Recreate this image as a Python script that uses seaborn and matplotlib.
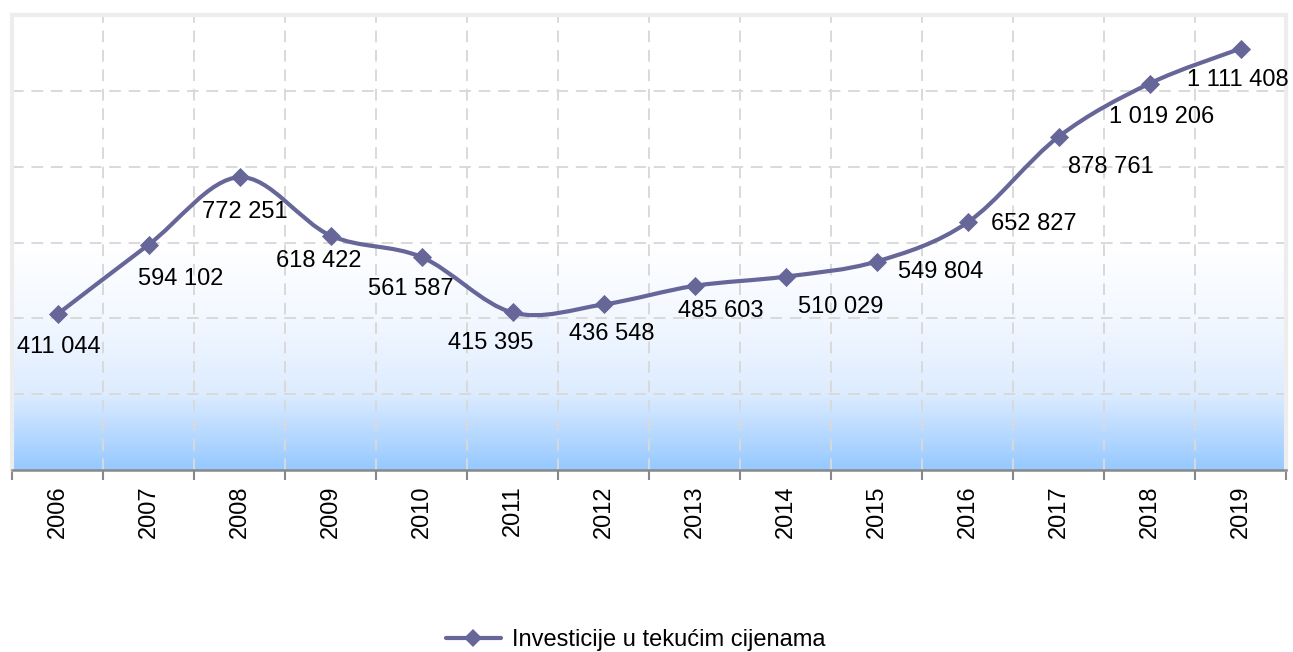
import numpy as np
import pandas as pd
import matplotlib
matplotlib.use("Agg")
import matplotlib.pyplot as plt
import seaborn as sns
from matplotlib.path import Path
from matplotlib.patches import PathPatch
from matplotlib.lines import Line2D
from matplotlib.colors import LinearSegmentedColormap

# ---- data ----
years = ["2006", "2007", "2008", "2009", "2010", "2011", "2012",
         "2013", "2014", "2015", "2016", "2017", "2018", "2019"]
values = [411044, 594102, 772251, 618422, 561587, 415395, 436548,
          485603, 510029, 549804, 652827, 878761, 1019206, 1111408]
labels = ["411 044", "594 102", "772 251", "618 422", "561 587", "415 395", "436 548",
          "485 603", "510 029", "549 804", "652 827", "878 761", "1 019 206", "1 111 408"]
series_name = "Investicije u tekućim cijenama"

# label offsets (pixels, layout only)
label_dx = [1, 32, 5, -12, -11, -22, 8, 26, 55, 64, 66, 52, 12, -3]
label_dy = [-33, -34, -35, -25, -32, -31, -30, -25, -30, -10, -2, -30, -33, -31]

LINE = "#666699"
FONT = "Liberation Sans"
FS = 17

sns.set_theme(style="white")
plt.rcParams["font.family"] = [FONT, "DejaVu Sans"]
plt.rcParams["text.color"] = "black"

W, H = 1293, 652
fig = plt.figure(figsize=(W / 100, H / 100), dpi=100)
ax = fig.add_axes([12 / W, (H - 470) / H, (1286 - 12) / W, (470 - 15) / H])

df = pd.DataFrame({"x": np.arange(len(years)), "year": years, "value": values})
ymax = 1200000

ax.set_xlim(-0.5, len(years) - 0.5)
ax.set_ylim(0, ymax)

# gradient background
cmap = LinearSegmentedColormap.from_list(
    "bg", [(0.0, "#97C9FF"), (200000 / ymax, "#DDECFF"), (400000 / ymax, "#F3F8FF"),
           (600000 / ymax, "#FFFFFF"), (1.0, "#FFFFFF")])
grad = np.linspace(0, 1, 400).reshape(-1, 1)
ax.imshow(grad, extent=[-0.5, len(years) - 0.5, 0, ymax], origin="lower",
          aspect="auto", cmap=cmap, zorder=0)

# grid
grid_kw = dict(color="#D9D9D9", lw=1.4, dashes=(6, 4), zorder=1)
for yv in range(200000, ymax, 200000):
    ax.axhline(yv, **grid_kw)
for xb in np.arange(0.5, len(years) - 1, 1.0):
    ax.axvline(xb, **grid_kw)

# smoothed line (Catmull-Rom -> cubic Bezier) built from the data
xs = df["x"].to_numpy(float)
ys = df["value"].to_numpy(float)
verts = [(xs[0], ys[0])]
codes = [Path.MOVETO]
n = len(xs)
for i in range(n - 1):
    p0 = np.array([xs[max(i - 1, 0)], ys[max(i - 1, 0)]])
    p1 = np.array([xs[i], ys[i]])
    p2 = np.array([xs[i + 1], ys[i + 1]])
    p3 = np.array([xs[min(i + 2, n - 1)], ys[min(i + 2, n - 1)]])
    c1 = p1 + (p2 - p0) / 6.0
    c2 = p2 - (p3 - p1) / 6.0
    verts += [tuple(c1), tuple(c2), tuple(p2)]
    codes += [Path.CURVE4] * 3
ax.add_patch(PathPatch(Path(verts, codes), facecolor="none", edgecolor=LINE,
                       lw=3.0, capstyle="round", joinstyle="round", zorder=3))

sns.scatterplot(data=df, x="x", y="value", marker="D", s=95, color=LINE,
                edgecolor=LINE, linewidth=0, ax=ax, zorder=4, legend=False)

# data labels
for xi, yi, lab, dx, dy in zip(xs, ys, labels, label_dx, label_dy):
    ax.annotate(lab, (xi, yi), xytext=(dx, dy), textcoords="offset pixels",
                ha="center", va="center", fontsize=FS, color="black", zorder=5)

# axes styling
ax.set_xticks(xs)
ax.set_xticklabels(years, rotation=90, fontsize=FS, color="black")
ax.set_xticks(np.arange(-0.5, len(years), 1.0), minor=True)
ax.tick_params(axis="x", which="major", length=0, pad=11)
ax.tick_params(axis="x", which="minor", length=7, width=1.5, color="#888888", bottom=True)
ax.set_yticks([])
ax.set_xlabel("")
ax.set_ylabel("")
for side in ["left", "top", "right"]:
    ax.spines[side].set_color("#EDEDED")
    ax.spines[side].set_linewidth(3)
ax.spines["bottom"].set_color("#888888")
ax.spines["bottom"].set_linewidth(1.8)
ax.spines["bottom"].set_zorder(6)

# legend
handle = Line2D([], [], color=LINE, lw=3.0, marker="D", markersize=9,
                markeredgewidth=0, solid_capstyle="round")
leg = fig.legend([handle], [series_name], loc="center", bbox_to_anchor=(636 / W, (H - 640) / H),
                 frameon=False, fontsize=FS, handlelength=2.3, handletextpad=0.5)
for t in leg.get_texts():
    t.set_color("black")

fig.savefig("out.png", dpi=100, facecolor="white")
